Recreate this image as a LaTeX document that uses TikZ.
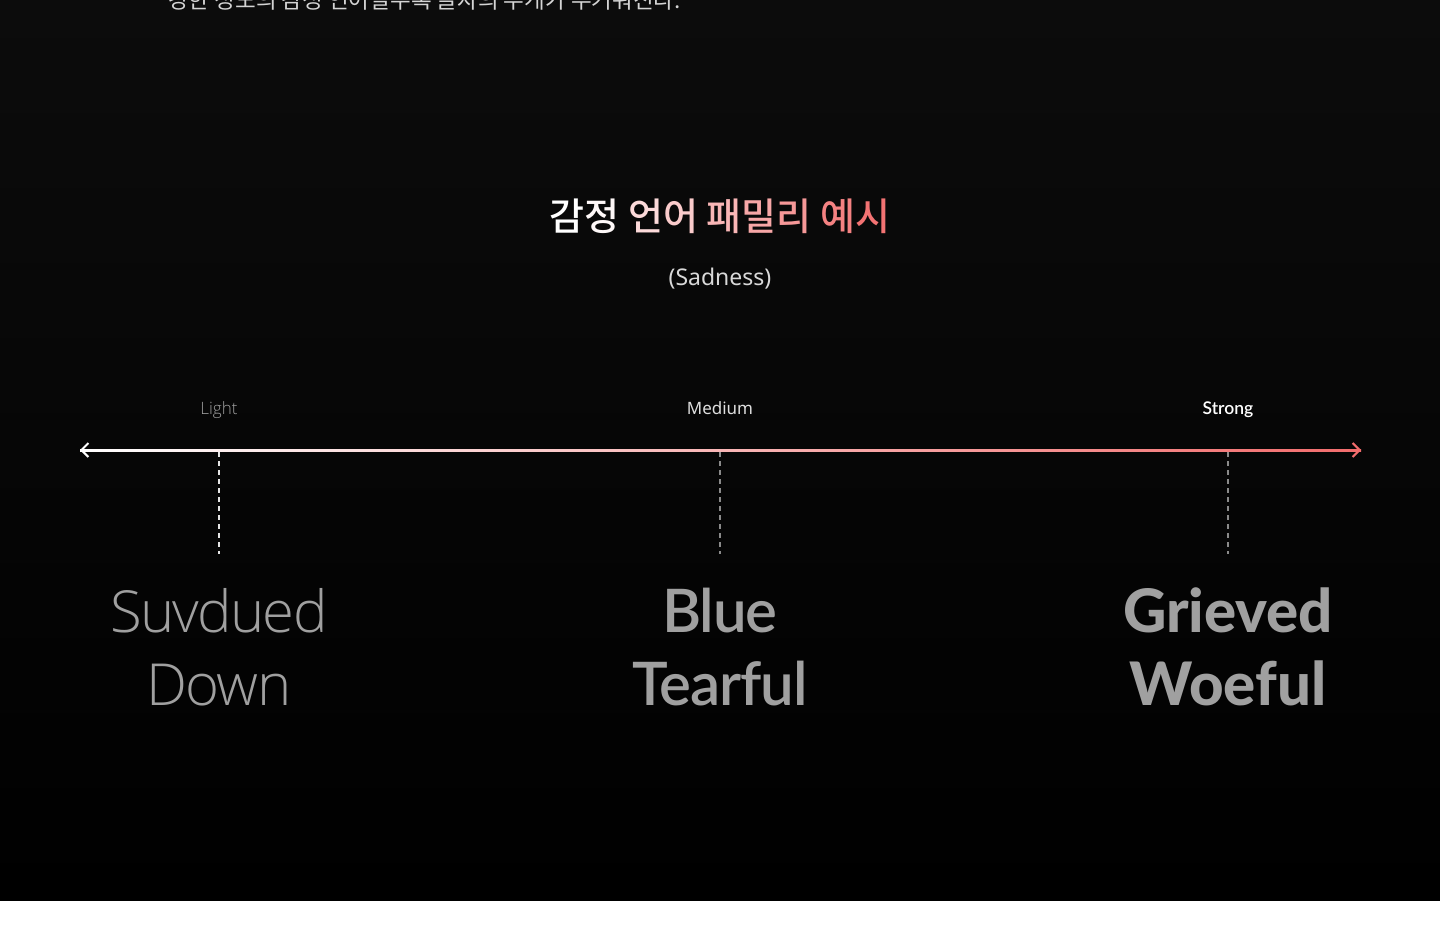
\documentclass[tikz,border=0pt]{standalone}
\usepackage{fontspec}
\setmainfont{Noto Sans}
\newcommand\pickfont[3]{\IfFontExistsTF{#2}{\newfontfamily#1{#2}}{#3}}
\pickfont\krfont{Noto Sans CJK KR Medium}{\newfontfamily\krfont{Noto Sans CJK KR}}
\newfontfamily\krtext{Noto Sans CJK KR}
\pickfont\lightfont{Open Sans Light}{\pickfont\lightfont{Lato Light}{\pickfont\lightfont{Fira Sans Light}{\newfontfamily\lightfont{Noto Sans}}}}
\pickfont\medfont{Open Sans Medium}{\pickfont\medfont{Lato Medium}{\pickfont\medfont{Fira Sans Medium}{\newfontfamily\medfont{Noto Sans}}}}
\pickfont\semifont{Open Sans SemiBold}{\pickfont\semifont{Lato Semibold}{\pickfont\semifont{Fira Sans SemiBold}{\newfontfamily\semifont{Noto Sans}[UprightFont=*~Bold]}}}
\pickfont\heavyfont{Open Sans ExtraBold}{\pickfont\heavyfont{Lato Heavy}{\pickfont\heavyfont{Fira Sans ExtraBold}{\newfontfamily\heavyfont{Noto Sans}[UprightFont=*~Bold]}}}
\usetikzlibrary{arrows.meta}
\definecolor{bgtop}{HTML}{0C0C0C}
\definecolor{salmon}{HTML}{F26C6C}
\definecolor{wordgray}{HTML}{A0A0A0}
\definecolor{dashgray}{HTML}{8A8A8A}
\definecolor{introgray}{HTML}{D4D4D4}
\newcommand\tch[2]{{\color{salmon!#1!white}#2}}

\begin{document}
\begin{tikzpicture}[x=1pt, y=-1pt,
  label/.style={anchor=base, inner sep=0pt},
  word/.style={anchor=base, inner sep=0pt, text=wordgray},
  tick/.style={dash pattern=on 5pt off 4pt, line width=1.5pt},
  tip/.style={line width=2pt, -{Straight Barb[length=7pt, width=14pt]}}
]
\clip (0,0) rectangle (1440,940);
\fill[white] (0,0) rectangle (1440,940);
\shade[top color=bgtop, bottom color=black] (0,0) rectangle (1440,900);

% intro line, cut by the top edge
\node[anchor=base west, inner sep=0pt, text=introgray, font=\krtext\fontsize{22.5}{27}\selectfont] (intro) at (168,8) {강한 정도의 감정 언어일수록 글자의 무게가 무거워진다.};

% heading
\node[anchor=base, inner sep=0pt, font=\krfont\fontsize{38}{44}\selectfont] (title) at (720,230)
  {\tch{0}{감}\tch{5}{정} \tch{25}{언}\tch{35}{어} \tch{50}{패}\tch{60}{밀}\tch{70}{리} \tch{85}{예}\tch{95}{시}};
\node[anchor=base, inner sep=0pt, text=white!85!black, font=\fontsize{23}{28}\selectfont] (sub) at (720,285) {(Sadness)};

% scale
\coordinate (axL) at (80,450);
\coordinate (axR) at (1361,450);
\shade[left color=white, right color=salmon] ([yshift=1pt]axL) rectangle ([yshift=-1pt]axR);
\draw[tip, white] ([xshift=12pt]axL) -- (axL);
\draw[tip, salmon] ([xshift=-12pt]axR) -- (axR);

\node[label, text=wordgray, font=\lightfont\fontsize{17}{20}\selectfont] (light) at (219,414) {Light};
\node[label, text=white!87!black, font=\fontsize{17}{20}\selectfont] (medium) at (720,414) {Medium};
\node[label, text=white, font=\semifont\fontsize{17.5}{20}\selectfont] (strong) at (1228,414) {Strong};

\foreach \n/\x/\c in {L/219/white!90!black, M/720/dashgray, S/1228/dashgray}{
  \coordinate (tick\n) at (\x,452);
  \coordinate (foot\n) at (\x,554);
  \draw[tick, \c] (tick\n) -- (foot\n);
}

% words by strength
\node[word, font=\lightfont\fontsize{58}{72}\selectfont\addfontfeatures{LetterSpace=-3}] (lightA) at (219,632) {Suvdued};
\node[word, font=\lightfont\fontsize{58}{72}\selectfont\addfontfeatures{LetterSpace=-3}] (lightB) at (219,705) {Down};
\node[word, font=\semifont\fontsize{60}{72}\selectfont\addfontfeatures{LetterSpace=-2}] (mediumA) at (720,632) {Blue};
\node[word, font=\semifont\fontsize{60}{72}\selectfont\addfontfeatures{LetterSpace=-2}] (mediumB) at (720,705) {Tearful};
\node[word, font=\heavyfont\fontsize{60}{72}\selectfont] (strongA) at (1228,632) {Grieved};
\node[word, font=\heavyfont\fontsize{60}{72}\selectfont] (strongB) at (1228,705) {Woeful};
\end{tikzpicture}
\end{document}
